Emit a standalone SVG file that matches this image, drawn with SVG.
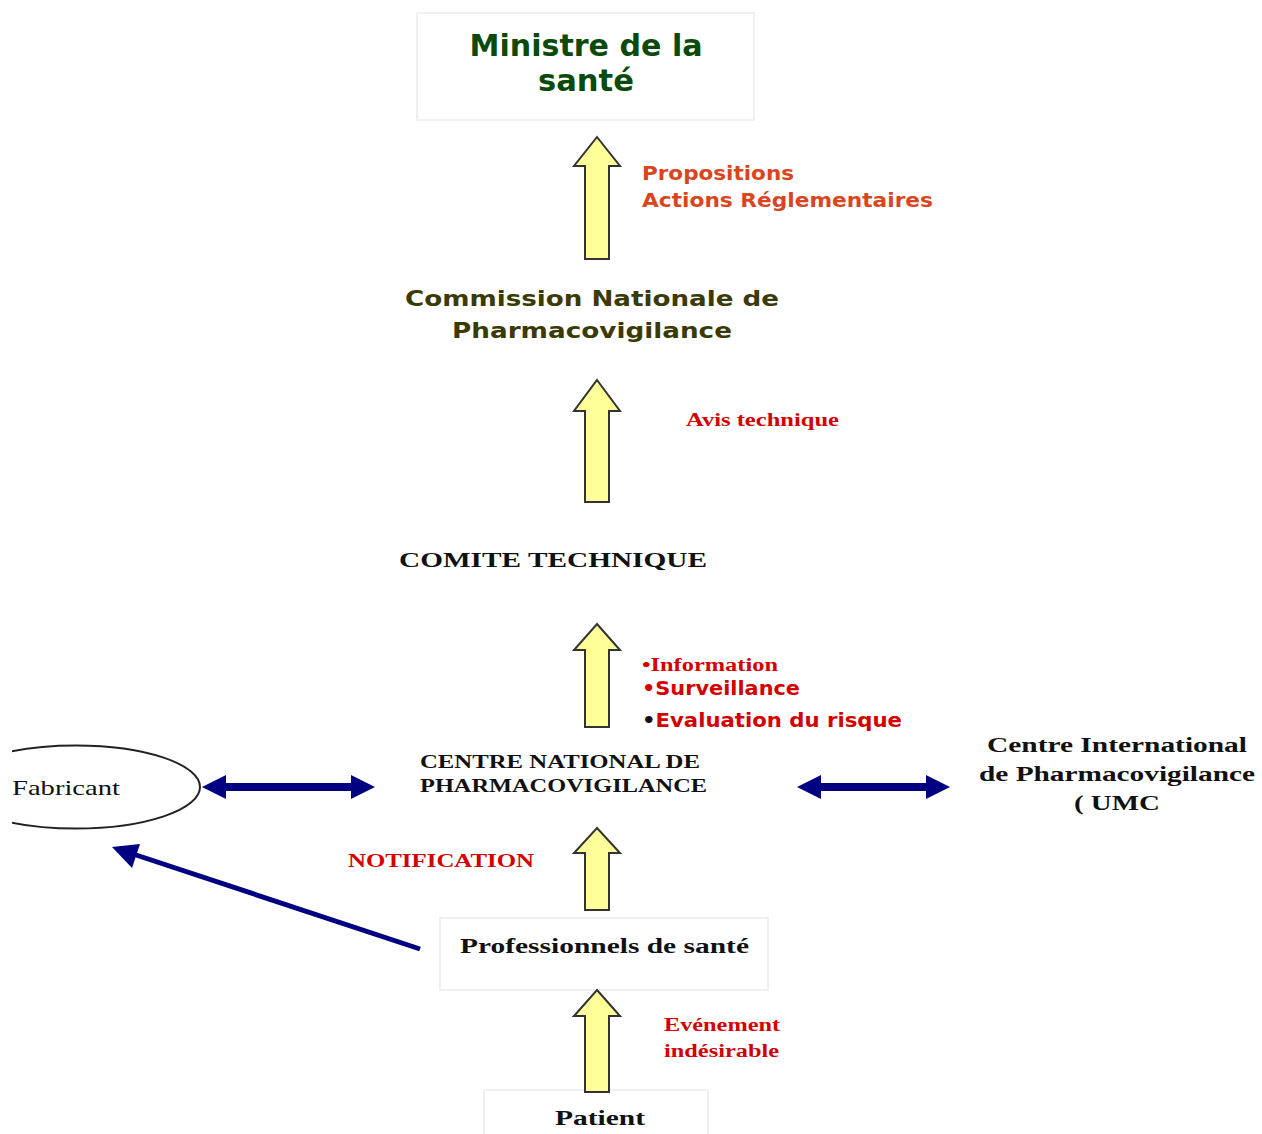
<svg xmlns="http://www.w3.org/2000/svg" width="1262" height="1134" viewBox="0 0 1262 1134">
<style>
.box{fill:#fff;stroke:#f0f0f0;stroke-width:2}
.up{fill:#ffff99;stroke:#333;stroke-width:2;stroke-linejoin:miter}
.sans{font-family:"DejaVu Sans","Liberation Sans",sans-serif;font-weight:bold}
.serif{font-family:"Liberation Serif","DejaVu Serif",serif;font-weight:bold}
.red{fill:#d40000}
.blk{fill:#111}
.navy{fill:#000080}
</style>
<defs>
<clipPath id="clipL"><rect x="12" y="0" width="1250" height="1134"/></clipPath>
</defs>
<rect width="1262" height="1134" fill="#fff"/>

<g id="ministre">
<rect class="box" x="417" y="13" width="337" height="107"/>
<text class="sans" x="586" y="56" font-size="30" fill="#0b4a0b" text-anchor="middle" textLength="233" lengthAdjust="spacingAndGlyphs">Ministre de la</text>
<text class="sans" x="586" y="91" font-size="30" fill="#0b4a0b" text-anchor="middle" textLength="96" lengthAdjust="spacingAndGlyphs">santé</text>
</g>

<g id="commission">
<text class="sans" x="592" y="306" font-size="22" fill="#3a3a05" text-anchor="middle" textLength="374" lengthAdjust="spacingAndGlyphs">Commission Nationale de</text>
<text class="sans" x="592" y="338" font-size="22" fill="#3a3a05" text-anchor="middle" textLength="280" lengthAdjust="spacingAndGlyphs">Pharmacovigilance</text>
</g>

<g id="comite">
<text class="serif blk" x="399" y="567" font-size="22" textLength="308" lengthAdjust="spacingAndGlyphs">COMITE TECHNIQUE</text>
</g>

<g id="centre-national">
<text class="serif blk" x="420" y="768" font-size="18" textLength="280" lengthAdjust="spacingAndGlyphs">CENTRE NATIONAL DE</text>
<text class="serif blk" x="420" y="792" font-size="18" textLength="287" lengthAdjust="spacingAndGlyphs">PHARMACOVIGILANCE</text>
</g>

<g id="fabricant">
<ellipse cx="76" cy="787" rx="124" ry="41.5" fill="#fff" stroke="#222" stroke-width="2" clip-path="url(#clipL)"/>
<text x="12" y="795" font-family="Liberation Serif, serif" font-size="21" fill="#111" textLength="108" lengthAdjust="spacingAndGlyphs">Fabricant</text>
</g>

<g id="umc">
<text class="serif blk" x="1117" y="752" font-size="20" text-anchor="middle" textLength="260" lengthAdjust="spacingAndGlyphs">Centre International</text>
<text class="serif blk" x="1117" y="781" font-size="20" text-anchor="middle" textLength="276" lengthAdjust="spacingAndGlyphs">de Pharmacovigilance</text>
<text class="serif blk" x="1117" y="810" font-size="20" text-anchor="middle" textLength="86" lengthAdjust="spacingAndGlyphs">( UMC</text>
</g>

<g id="professionnels">
<rect class="box" x="440" y="918" width="328" height="72"/>
<text class="serif blk" x="460" y="953" font-size="20" textLength="289" lengthAdjust="spacingAndGlyphs">Professionnels de santé</text>
</g>

<g id="patient">
<rect class="box" x="484" y="1090" width="224" height="48"/>
<text class="serif blk" x="600" y="1125" font-size="20" text-anchor="middle" textLength="90" lengthAdjust="spacingAndGlyphs">Patient</text>
</g>

<g id="connectors">
<polygon class="up" points="597,137 620,166 609,166 609,259 585,259 585,166 574,166"/>
<polygon class="up" points="597,380 620,411 609,411 609,502 585,502 585,411 574,411"/>
<polygon class="up" points="597,624 620,650 609,650 609,727 585,727 585,650 574,650"/>
<polygon class="up" points="597,828 620,853 609,853 609,910 585,910 585,853 574,853"/>
<polygon class="up" points="597,990 620,1016 609,1016 609,1092 585,1092 585,1016 574,1016"/>
<polygon class="navy" points="202,787 226,775 226,783 351,783 351,775 375,787 351,799 351,791 226,791 226,799"/>
<polygon class="navy" points="797,787 821,775 821,783 926,783 926,775 950,787 926,799 926,791 821,791 821,799"/>
<line x1="420" y1="949" x2="130" y2="853" stroke="#000080" stroke-width="5"/>
<polygon class="navy" points="112,847 140,844 132,868"/>
</g>

<g id="labels">
<text class="sans" x="642" y="180" font-size="20" fill="#d9461e" textLength="152" lengthAdjust="spacingAndGlyphs">Propositions</text>
<text class="sans" x="642" y="207" font-size="20" fill="#d9461e" textLength="291" lengthAdjust="spacingAndGlyphs">Actions Réglementaires</text>
<text class="serif red" x="686" y="426" font-size="19" textLength="153" lengthAdjust="spacingAndGlyphs">Avis technique</text>
<text class="serif red" x="642" y="671" font-size="18" textLength="136" lengthAdjust="spacingAndGlyphs">•Information</text>
<text class="sans red" x="642" y="695" font-size="19" textLength="158" lengthAdjust="spacingAndGlyphs">•Surveillance</text>
<text class="sans" x="642" y="727" font-size="20" textLength="260" lengthAdjust="spacingAndGlyphs"><tspan fill="#111">•</tspan><tspan class="red">Evaluation du risque</tspan></text>
<text class="serif red" x="348" y="867" font-size="18" textLength="186" lengthAdjust="spacingAndGlyphs">NOTIFICATION</text>
<text class="serif red" x="664" y="1031" font-size="18" textLength="116" lengthAdjust="spacingAndGlyphs">Evénement</text>
<text class="serif red" x="664" y="1057" font-size="18" textLength="115" lengthAdjust="spacingAndGlyphs">indésirable</text>
</g>
</svg>
